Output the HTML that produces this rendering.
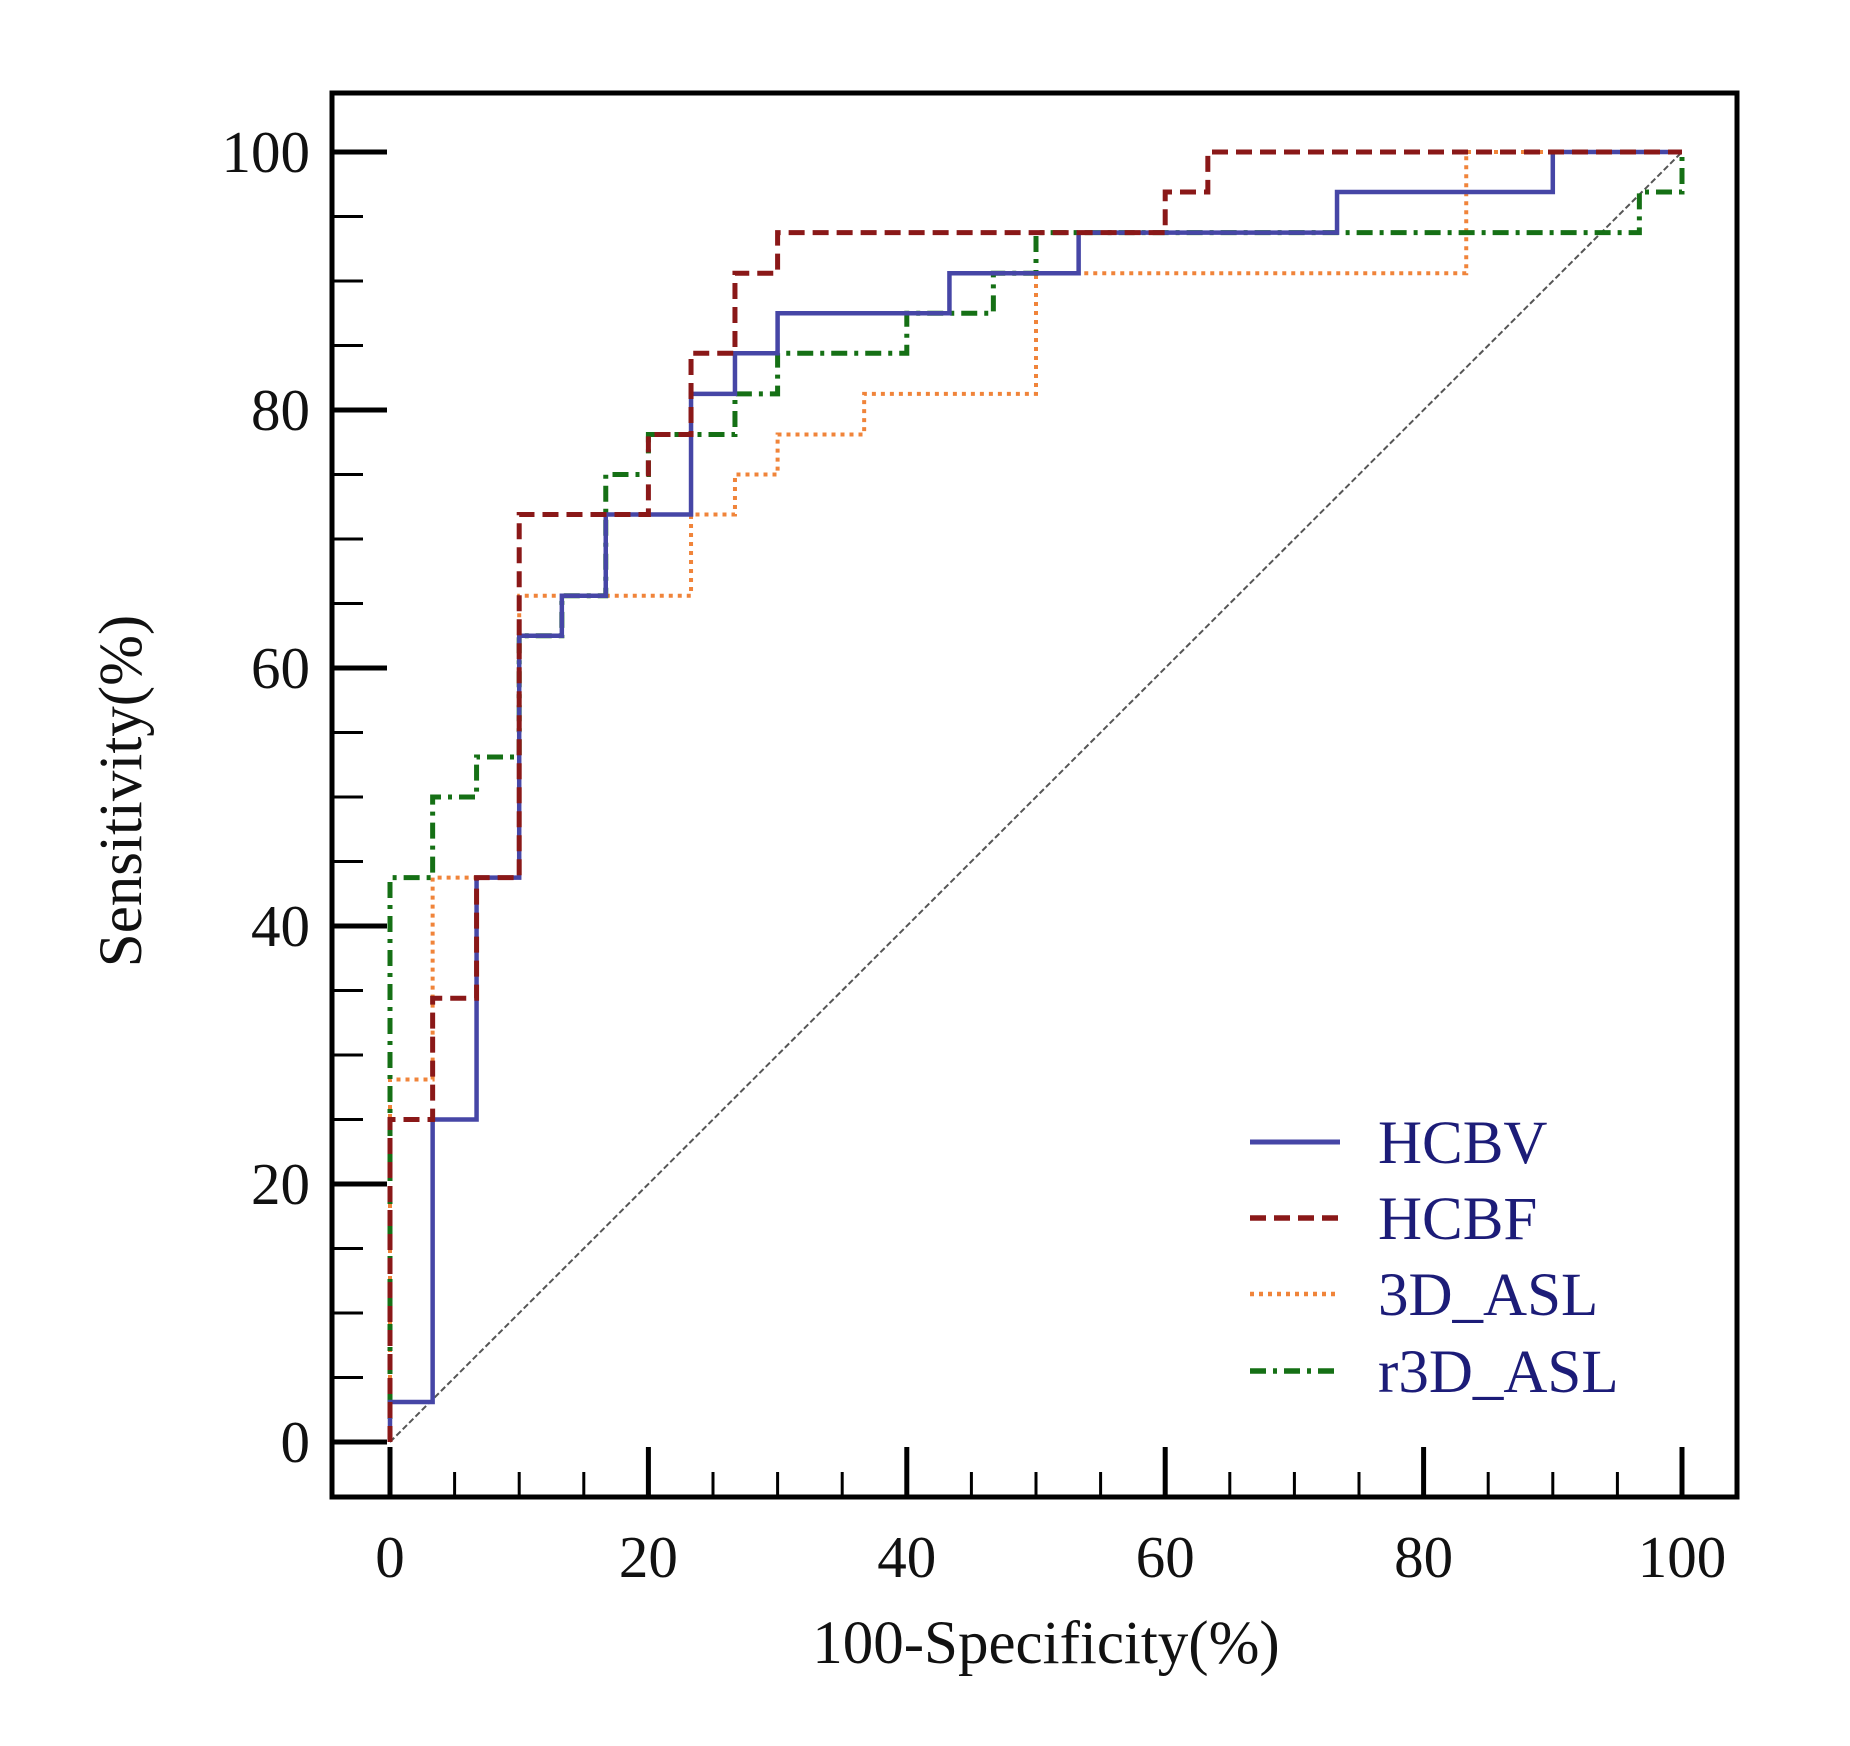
<!DOCTYPE html>
<html><head><meta charset="utf-8"><style>
html,body{margin:0;padding:0;background:#fff;}
svg{display:block;}
text{font-family:"Liberation Serif",serif;}
</style></head><body>
<svg id="chart" width="1850" height="1746" viewBox="0 0 1850 1746"></svg>
<script>
const xTicks = [0,20,40,60,80,100];
const yTicks = [0,20,40,60,80,100];
const seriesNames = ["HCBV","HCBF","3D_ASL","r3D_ASL"];
const hcbvX = [0,0,3.3,3.3,6.7,6.7,10,10,13.3,13.3,16.7,16.7,23.3,23.3,26.7,26.7,30,30,43.3,43.3,53.3,53.3,73.3,73.3,90,90,100];
const hcbvY = [0,3.1,3.1,25,25,43.75,43.75,62.5,62.5,65.6,65.6,71.9,71.9,81.25,81.25,84.4,84.4,87.5,87.5,90.6,90.6,93.75,93.75,96.9,96.9,100,100];
const hcbfX = [0,0,3.3,3.3,6.7,6.7,10,10,20,20,23.3,23.3,26.7,26.7,30,30,60,60,63.3,63.3,100];
const hcbfY = [0,25,25,34.4,34.4,43.75,43.75,71.9,71.9,78.1,78.1,84.4,84.4,90.6,90.6,93.75,93.75,96.9,96.9,100,100];
const aslX = [0,0,3.3,3.3,6.7,6.7,10,10,23.3,23.3,26.7,26.7,30,30,36.7,36.7,50,50,83.3,83.3,100];
const aslY = [0,28.1,28.1,43.75,43.75,43.75,43.75,65.6,65.6,71.9,71.9,75,75,78.1,78.1,81.25,81.25,90.6,90.6,100,100];
const raslX = [0,0,3.3,3.3,6.7,6.7,10,10,13.3,13.3,16.7,16.7,20,20,26.7,26.7,30,30,40,40,46.7,46.7,50,50,96.7,96.7,100,100];
const raslY = [0,43.75,43.75,50,50,53.1,53.1,62.5,62.5,65.6,65.6,75,75,78.1,78.1,81.25,81.25,84.4,84.4,87.5,87.5,90.6,90.6,93.75,93.75,96.9,96.9,100];

const NS="http://www.w3.org/2000/svg";
const svg=document.getElementById('chart');
const X0=390,X1=1682,Y0=1442,Y1=152;
const sx=v=>X0+(X1-X0)*v/100;
const sy=v=>Y0+(Y1-Y0)*v/100;
function mk(tag,attrs,parent){const e=document.createElementNS(NS,tag);for(const k in attrs)e.setAttribute(k,attrs[k]);(parent||svg).appendChild(e);return e;}

const frame=mk('rect',{x:332,y:93,width:1405,height:1404,fill:'none',stroke:'#000','stroke-width':5});



for(let v=0;v<=100;v+=5){
  const major=v%20===0;
  const t=mk('line',{x1:332,x2:major?387:363,y1:sy(v),y2:sy(v),stroke:'#000','stroke-width':major?5:3});
  
  
}
yTicks.forEach(v=>{
  const t=mk('text',{x:310,y:sy(v)+20,'text-anchor':'end','font-size':59,fill:'#111'});
  t.textContent=v;
  
  
});
for(let v=0;v<=100;v+=5){
  const major=v%20===0;
  const t=mk('line',{x1:sx(v),x2:sx(v),y1:1497,y2:major?1447:1472,stroke:'#000','stroke-width':major?5:3});
  
  
}
xTicks.forEach(v=>{
  const t=mk('text',{x:sx(v),y:1577,'text-anchor':'middle','font-size':59,fill:'#111'});
  t.textContent=v;
  
  
});
const xt=mk('text',{x:1046,y:1663,'text-anchor':'middle','font-size':61,fill:'#111'});
xt.textContent='100-Specificity(%)';


const yt=mk('text',{x:0,y:0,'text-anchor':'middle','font-size':61,fill:'#111',transform:'translate(141,791) rotate(-90)'});
yt.textContent='Sensitivity(%)';



const dg=mk('line',{x1:sx(0),y1:sy(0),x2:sx(100),y2:sy(100),stroke:'#555','stroke-width':2,'stroke-dasharray':'6,3'});



const styles=[
  {c:'#4646a6',d:'',w:4.5},
  {c:'#8a1818',d:'16,8',w:5},
  {c:'#f0843a',d:'4,5',w:4},
  {c:'#157015',d:'16,7,4,7',w:5}
];
const xs=[hcbvX,hcbfX,aslX,raslX], ys=[hcbvY,hcbfY,aslY,raslY];
const names=['hcbv-curve','hcbf-curve','3d-asl-curve','r3d-asl-curve'];
[2,3,0,1].forEach(i=>{
  const pts=xs[i].map((x,k)=>sx(x)+','+sy(ys[i][k])).join(' ');
  const p=mk('polyline',{points:pts,fill:'none',stroke:styles[i].c,'stroke-width':styles[i].w,'stroke-dasharray':styles[i].d,'stroke-linejoin':'miter'});
  
  
});

const ly=[1142,1218,1294,1371];
seriesNames.forEach((n,i)=>{
  const l=mk('line',{x1:1250,x2:1340,y1:ly[i],y2:ly[i],stroke:styles[i].c,'stroke-width':styles[i].w+0.5,'stroke-dasharray':styles[i].d});
  
  
  const t=mk('text',{x:1378,y:ly[i]+21,'font-size':61,fill:'#1c1c78'});
  t.textContent=n;
  
  
});
</script>
</body></html>
